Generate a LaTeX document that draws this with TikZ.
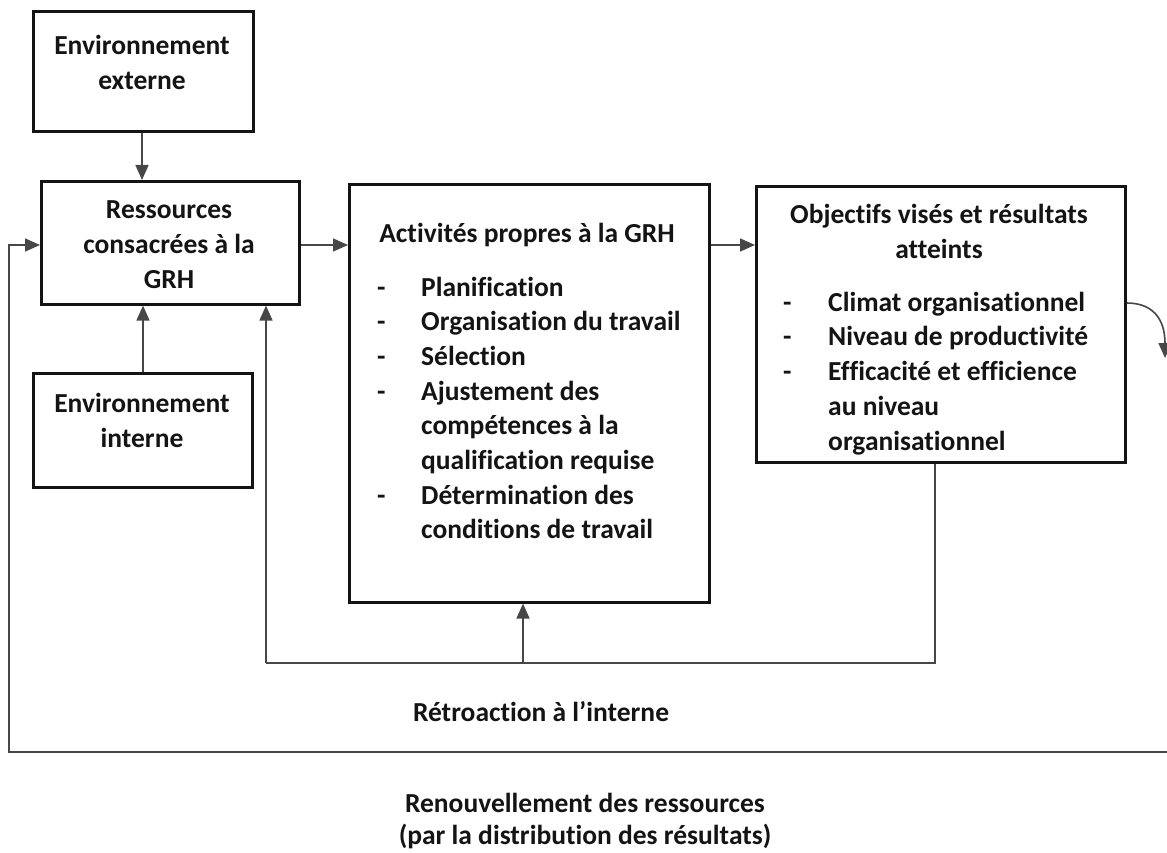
\documentclass[tikz,border=0pt]{standalone}
\usepackage{fontspec}
\setmainfont{Carlito}[Ligatures=NoCommon]
\usetikzlibrary{arrows.meta}
\colorlet{ink}{black!92}
\tikzset{
  box/.style={draw=ink, line width=2.6pt, rectangle, inner sep=0pt, anchor=north west},
  txt/.style={font=\fontsize{27.5}{35}\selectfont\bfseries, align=center, inner sep=0pt, text=ink},
  item/.style={font=\fontsize{27.5}{35}\selectfont\bfseries, inner sep=0pt, anchor=base west, text=ink},
  conn/.style={draw=black!72, line width=1.6pt},
  arr/.style={conn, -{Triangle[length=15pt,width=13pt]}},
}
\begin{document}
\begin{tikzpicture}[x=1pt,y=-1pt]
\useasboundingbox[fill=white] (0,0) rectangle (1167,853);

% boxes
\node[box, minimum width=220pt, minimum height=120pt] (ext) at (32,10) {};
\node[box, minimum width=258pt, minimum height=123pt] (res) at (40,180) {};
\node[box, minimum width=219pt, minimum height=114pt] (int) at (32,372) {};
\node[box, minimum width=360pt, minimum height=418pt] (act) at (348,183) {};
\node[box, minimum width=369pt, minimum height=276pt] (obj) at (755,185) {};

% box titles
\node[txt] (extT) at (142,62) {Environnement\\externe};
\node[txt] (resT) at (169,245) {Ressources\\consacrées à la\\GRH};
\node[txt] (intT) at (142,420) {Environnement\\interne};
\node[txt] (actT) at (527,235) {Activités propres à la GRH};
\node[txt] (objT) at (939,231) {Objectifs visés et résultats\\atteints};

% activity list (1 = line opens a new item)
\foreach \d/\t [count=\i from 0] in {1/Planification, 1/Organisation du travail, 1/Sélection,
    1/Ajustement des, 0/compétences à la, 0/qualification requise,
    1/Détermination des, 0/conditions de travail} {
  \node[item] (act\i) at (421,{296+34.7*\i}) {\t};
  \ifnum\d=1 \node[item] (actD\i) at (377,{296+34.7*\i}) {-}; \fi
}

% objective list
\foreach \d/\t [count=\i from 0] in {1/Climat organisationnel, 1/Niveau de productivité,
    1/Efficacité et efficience, 0/au niveau, 0/organisationnel} {
  \node[item] (obj\i) at (828,{311+34.8*\i}) {\t};
  \ifnum\d=1 \node[item] (objD\i) at (783,{311+34.8*\i}) {-}; \fi
}

% free labels
\node[txt] (retro) at (541,712) {Rétroaction à l’interne};
\node[txt, font=\fontsize{27.5}{32.5}\selectfont\bfseries] (renouv) at (585,821) {Renouvellement des ressources\\(par la distribution des résultats)};

% forward flow
\draw[arr] (ext.south -| 142,0) -- (res.north -| 142,0);
\draw[arr] (int.north -| 143,0) -- (res.south -| 143,0);
\draw[arr] (res.east |- 0,245) -- (act.west |- 0,245);
\draw[arr] (act.east |- 0,245) -- (obj.west |- 0,245);

% internal feedback loop
\coordinate (fbR) at (935,663);
\coordinate (fbL) at (266,663);
\coordinate (fbM) at (523,663);
\draw[conn] (obj.south -| fbR) -- (fbR) -- (fbL);
\draw[arr] (fbL) -- (res.south -| fbL);
\draw[arr] (fbM) -- (act.south -| fbM);

% resource renewal loop
\coordinate (outR) at (1167,752);
\coordinate (outL) at (9,752);
\coordinate (curveEnd) at (1165,358);
\draw[arr] (obj.east |- 0,303) .. controls (1152,303) and (1165,318) .. (curveEnd);
\draw[arr] (outR) -- (outL) |- (res.west |- 0,245);
\end{tikzpicture}
\end{document}
